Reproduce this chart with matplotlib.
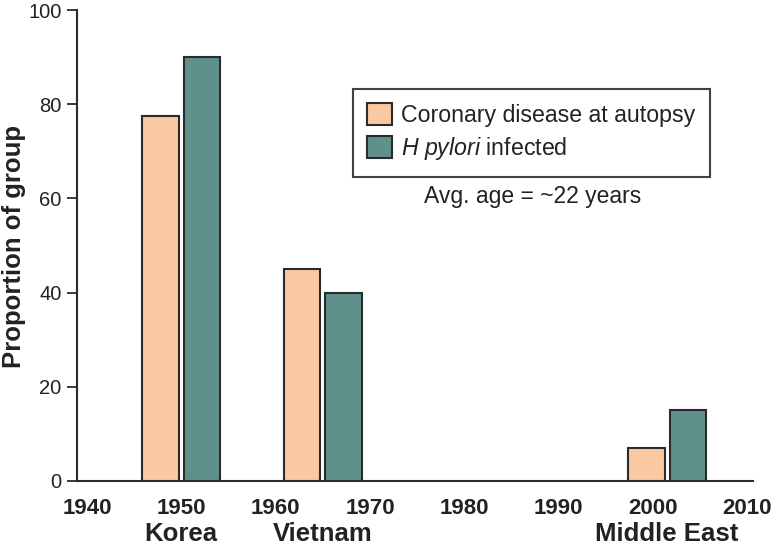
import matplotlib
matplotlib.use("Agg")
import matplotlib.pyplot as plt
import numpy as np

plt.rcParams['font.family'] = ['Liberation Sans', 'DejaVu Sans']
plt.rcParams['mathtext.fontset'] = 'custom'
plt.rcParams['mathtext.rm'] = 'Liberation Sans'
plt.rcParams['mathtext.it'] = 'Liberation Sans:italic'

# data
regions = ["Korea", "Vietnam", "Middle East"]
region_years = [1950, 1965, 2001.5]
coronary = [77.5, 45, 7]
hpylori = [90, 40, 15]
xticks = [1940, 1950, 1960, 1970, 1980, 1990, 2000, 2010]
yticks = [0, 20, 40, 60, 80, 100]

orange = "#fac8a1"
teal = "#5f918a"
edge = "#2b2b2b"
txt = "#222222"

fig = plt.figure(figsize=(7.75, 5.47), dpi=100)
ax = fig.add_axes([77 / 775, 1 - 481 / 547, (753 - 77) / 775, (481 - 10) / 547])

x = np.array(region_years)
w = 3.9
off = 2.2
ax.bar(x - off, coronary, width=w, color=orange, edgecolor=edge, linewidth=1.5,
       label="Coronary disease at autopsy", zorder=3)
ax.bar(x + off, hpylori, width=w, color=teal, edgecolor=edge, linewidth=1.5,
       label=r"$\it{H\ pylori}$ infected", zorder=3)

ax.set_xlim(1938.95, 2010.6)
ax.set_ylim(0, 100)
ax.set_xticks(xticks)
ax.set_xticklabels([str(t) for t in xticks], fontsize=16, fontweight='bold', color=txt)
ax.set_yticks(yticks)
ax.set_yticklabels([str(t) for t in yticks], fontsize=14.5, color=txt)
ax.tick_params(axis='x', length=0, pad=12)
ax.tick_params(axis='y', length=7.5, width=1.3, color=edge, pad=3.5)

for s in ["top", "right"]:
    ax.spines[s].set_visible(False)
for s in ["left", "bottom"]:
    ax.spines[s].set_linewidth(1.5)
    ax.spines[s].set_color(edge)

# y label placed by hand so it sits right against the left edge
fig.text(14 / 775, 1 - 246 / 547, "Proportion of group", rotation=90,
         ha='center', va='center', fontsize=18.5, fontweight='bold', color=txt)

# region names under the year labels
trans = ax.get_xaxis_transform()
for yr, name in zip(region_years, regions):
    ax.text(yr, -0.127, name, transform=trans, ha='center', va='baseline',
            fontsize=18.5, fontweight='bold', color=txt)

leg = ax.legend(loc='upper left', bbox_to_anchor=(353 / 775, 1 - 89 / 547),
                bbox_transform=fig.transFigure, fontsize=16.7, frameon=True,
                fancybox=False, edgecolor='#111111', borderaxespad=0,
                handlelength=1.05, handleheight=1.05, handletextpad=0.4,
                labelspacing=0.35, borderpad=0.62)
leg.get_frame().set_linewidth(1.5)
for t in leg.get_texts():
    t.set_color(txt)

fig.text(533 / 775, 1 - 196 / 547, "Avg. age = ~22 years", ha='center', va='center',
         fontsize=16.5, color=txt)

fig.savefig("out.png", dpi=100)
